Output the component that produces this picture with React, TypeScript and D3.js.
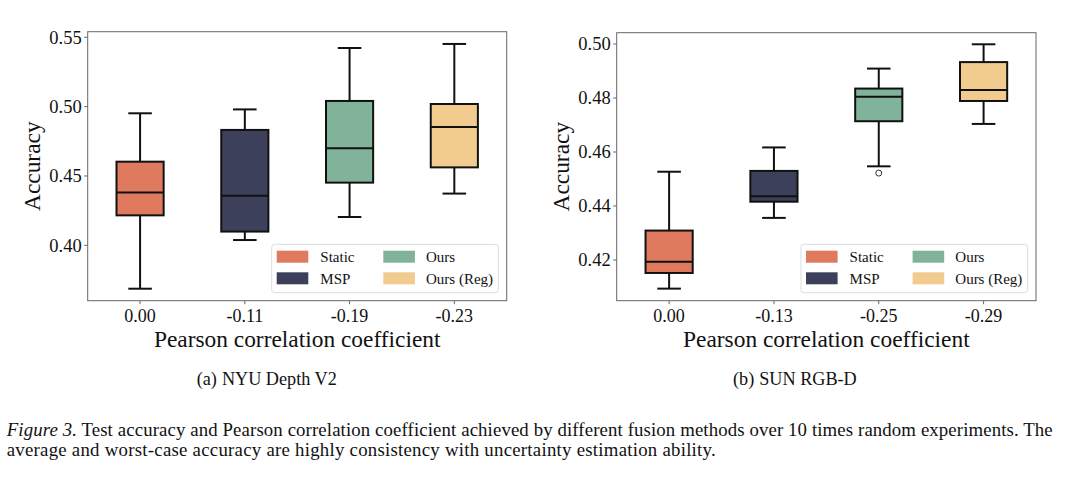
import React from "react";
import * as d3 from "d3";

const methods = ["Static", "MSP", "Ours", "Ours (Reg)"];
const colors = ["#e07a5f", "#3d405b", "#81b29a", "#f2cc8f"];

// Panel (a) NYU Depth V2
const nyuTickLabels = ["0.00", "-0.11", "-0.19", "-0.23"];
const nyuLow = [0.3687, 0.4038, 0.4204, 0.4373];
const nyuQ1 = [0.4216, 0.4099, 0.4452, 0.4562];
const nyuMed = [0.438, 0.4358, 0.47, 0.4853];
const nyuQ3 = [0.4603, 0.4832, 0.5041, 0.5019];
const nyuHigh = [0.4952, 0.498, 0.5423, 0.5452];
const nyuOutliers: number[][] = [[], [], [], []];
const nyuYTicks = [0.4, 0.45, 0.5, 0.55];

// Panel (b) SUN RGB-D
const sunTickLabels = ["0.00", "-0.13", "-0.25", "-0.29"];
const sunLow = [0.4094, 0.4356, 0.4547, 0.4704];
const sunQ1 = [0.4152, 0.4416, 0.4714, 0.4789];
const sunMed = [0.4194, 0.4436, 0.4805, 0.483];
const sunQ3 = [0.4309, 0.453, 0.4835, 0.4933];
const sunHigh = [0.4527, 0.4617, 0.4909, 0.4999];
const sunOutliers: number[][] = [[], [], [0.4522], []];
const sunYTicks = [0.42, 0.44, 0.46, 0.48, 0.5];

const FONT = '"Liberation Serif", "Times New Roman", Times, serif';

type PanelProps = {
  x0: number;
  x1: number;
  y0: number;
  y1: number;
  yDomain: [number, number];
  yTicks: number[];
  tickLabels: string[];
  low: number[];
  q1: number[];
  med: number[];
  q3: number[];
  high: number[];
  outliers: number[][];
  yLabelX: number;
  sub: [string, string];
  subX: number;
};

function Panel(p: PanelProps) {
  const x = d3.scaleBand<string>().domain(methods).range([p.x0, p.x1]).paddingInner(0).paddingOuter(0);
  const y = d3.scaleLinear().domain(p.yDomain).range([p.y1, p.y0]);
  const step = x.step();
  const bw = step * 0.45;
  const capW = bw / 2;
  const cx = (m: string) => (x(m) as number) + step / 2;
  const lw = 2;
  const legX = p.x1 - 8.4 - 226.6;
  const legY = p.y1 - 8 - 48.4;
  const legCols = [
    { px: 5, tx: 48.6 },
    { px: 111.6, tx: 154.3 },
  ];
  const legRows = [12.4, 34];
  return (
    <g>
      {p.yTicks.map((t) => (
        <g key={t}>
          <line x1={p.x0 - 3.5} x2={p.x0} y1={y(t)} y2={y(t)} stroke="#555" strokeWidth={0.9} />
          <text x={p.x0 - 6} y={y(t)} dy="0.35em" textAnchor="end" fontSize={18.5} fontFamily={FONT} fill="#111">
            {d3.format(".2f")(t)}
          </text>
        </g>
      ))}
      {methods.map((m, i) => (
        <g key={m}>
          <line x1={cx(m)} x2={cx(m)} y1={p.y1} y2={p.y1 + 3.5} stroke="#555" strokeWidth={0.9} />
          <text x={cx(m)} y={p.y1 + 21} textAnchor="middle" fontSize={18} fontFamily={FONT} fill="#111">
            {p.tickLabels[i]}
          </text>
        </g>
      ))}
      {methods.map((m, i) => {
        const c = cx(m);
        return (
          <g key={"b" + m}>
            <line x1={c} x2={c} y1={y(p.high[i])} y2={y(p.q3[i])} stroke="#111" strokeWidth={lw} />
            <line x1={c} x2={c} y1={y(p.q1[i])} y2={y(p.low[i])} stroke="#111" strokeWidth={lw} />
            <line x1={c - capW / 2} x2={c + capW / 2} y1={y(p.high[i])} y2={y(p.high[i])} stroke="#111" strokeWidth={lw} />
            <line x1={c - capW / 2} x2={c + capW / 2} y1={y(p.low[i])} y2={y(p.low[i])} stroke="#111" strokeWidth={lw} />
            <rect
              x={c - bw / 2}
              y={y(p.q3[i])}
              width={bw}
              height={y(p.q1[i]) - y(p.q3[i])}
              fill={colors[i]}
              stroke="#111"
              strokeWidth={lw}
            />
            <line x1={c - bw / 2} x2={c + bw / 2} y1={y(p.med[i])} y2={y(p.med[i])} stroke="#111" strokeWidth={lw} />
            {p.outliers[i].map((o, k) => (
              <circle key={k} cx={c} cy={y(o)} r={3} fill="none" stroke="#333" strokeWidth={1} />
            ))}
          </g>
        );
      })}
      <rect x={p.x0} y={p.y0} width={p.x1 - p.x0} height={p.y1 - p.y0} fill="none" stroke="#666" strokeWidth={1} />
      <g transform={`translate(${legX},${legY})`}>
        <rect x={0} y={0} width={226.6} height={48.4} rx={3} fill="white" fillOpacity={0.85} stroke="#dcdcdc" strokeWidth={1} />
        {methods.map((m, i) => {
          const col = legCols[Math.floor(i / 2)];
          const row = legRows[i % 2];
          return (
            <g key={"l" + m}>
              <rect x={col.px} y={row - 6} width={31.6} height={12} fill={colors[i]} />
              <text x={col.tx} y={row} dy="0.35em" fontSize={15} fontFamily={FONT} fill="#111">
                {m}
              </text>
            </g>
          );
        })}
      </g>
      <text x={(p.x0 + p.x1) / 2} y={p.y1 + 46} textAnchor="middle" fontSize={23.4} fontFamily={FONT} fill="#111">
        Pearson correlation coefficient
      </text>
      <text
        transform={`translate(${p.yLabelX},${(p.y0 + p.y1) / 2}) rotate(-90)`}
        textAnchor="middle"
        fontSize={23.4}
        fontFamily={FONT}
        fill="#111"
      >
        Accuracy
      </text>
      <text x={p.subX} y={384.5} fontSize={18.2} fontFamily={FONT} fill="#111">
        <tspan>{p.sub[0]}</tspan>
        <tspan dx={5}>{p.sub[1]}</tspan>
      </text>
    </g>
  );
}

export default function App() {
  return (
    <svg width={1080} height={494} style={{ position: "absolute", left: 0, top: 0, background: "white" }}>
      <rect x={0} y={0} width={1080} height={494} fill="white" />
      <Panel
        x0={87.7}
        x1={506.7}
        y0={31.7}
        y1={300.7}
        yDomain={[0.36005, 0.55404]}
        yTicks={nyuYTicks}
        tickLabels={nyuTickLabels}
        low={nyuLow}
        q1={nyuQ1}
        med={nyuMed}
        q3={nyuQ3}
        high={nyuHigh}
        outliers={nyuOutliers}
        yLabelX={39.5}
        sub={["(a)", "NYU Depth V2"]}
        subX={196.7}
      />
      <Panel
        x0={616.7}
        x1={1036}
        y0={32.7}
        y1={300.7}
        yDomain={[0.40493, 0.50419]}
        yTicks={sunYTicks}
        tickLabels={sunTickLabels}
        low={sunLow}
        q1={sunQ1}
        med={sunMed}
        q3={sunQ3}
        high={sunHigh}
        outliers={sunOutliers}
        yLabelX={568.5}
        sub={["(b)", "SUN RGB-D"]}
        subX={733}
      />
      <text x={6.7} y={435.6} fontSize={18.8} fontFamily={FONT} fill="#111" textLength={1046} lengthAdjust="spacing">
        <tspan fontStyle="italic">Figure 3.</tspan> Test accuracy and Pearson correlation coefficient achieved by different fusion methods over 10 times random experiments. The
      </text>
      <text x={6.7} y={456.4} fontSize={18.8} fontFamily={FONT} fill="#111" textLength={709} lengthAdjust="spacing">
        average and worst-case accuracy are highly consistency with uncertainty estimation ability.
      </text>
    </svg>
  );
}
